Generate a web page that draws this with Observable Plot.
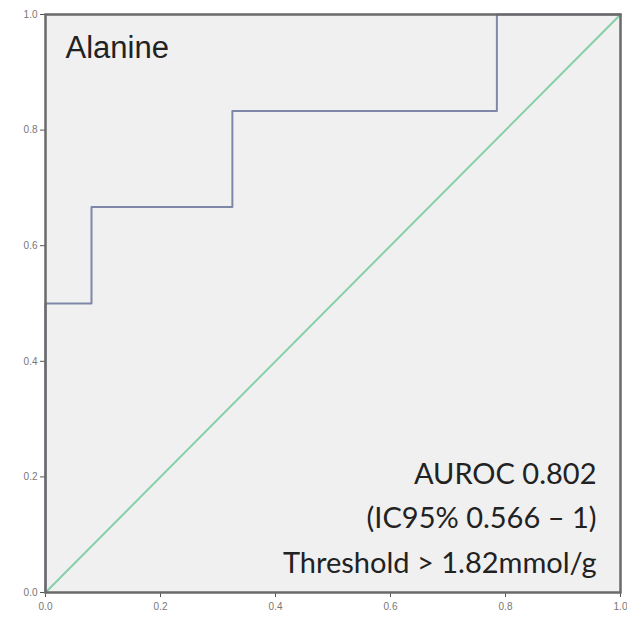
<!DOCTYPE html>
<html>
<head>
<meta charset="utf-8">
<script src="https://cdn.jsdelivr.net/npm/d3@7"></script>
<script src="https://cdn.jsdelivr.net/npm/@observablehq/plot@0.6"></script>
<style>
  html, body { margin: 0; padding: 0; background: #fff; }
  svg { display: block; }
</style>
</head>
<body>
<div id="chart"></div>
<script>
const fpr = [0, 0, 0.08, 0.08, 0.325, 0.325, 0.785, 0.785, 1];
const tpr = [0, 0.5, 0.5, 0.667, 0.667, 0.833, 0.833, 1, 1];
const refX = [0, 1];
const refY = [0, 1];
const ticks = [0, 0.2, 0.4, 0.6, 0.8, 1];
const title = "Alanine";
const noteLines = ["AUROC 0.802", "(IC95% 0.566 \u2013 1)", "Threshold > 1.82mmol/g"];

const roc = fpr.map((x, i) => ({x, y: tpr[i]}));
const ref = refX.map((x, i) => ({x, y: refY[i]}));

const chart = Plot.plot({
  width: 627,
  height: 622,
  marginLeft: 45,
  marginRight: 7,
  marginTop: 14,
  marginBottom: 30,
  style: {background: "#fff", fontFamily: "Liberation Sans, Arial, sans-serif"},
  x: {domain: [0, 1], label: null},
  y: {domain: [0, 1], label: null},
  marks: [
    Plot.frame({fill: "#f0f0f0", stroke: null}),
    Plot.axisX({ticks, tickFormat: d3.format(".1f"), stroke: "#555", color: "#777", fontSize: 10, tickPadding: 5, tickSize: 5}),
    Plot.axisY({ticks, tickFormat: d3.format(".1f"), stroke: "#555", color: "#777", fontSize: 10, tickPadding: 3, tickSize: 5}),
    Plot.line(ref, {x: "x", y: "y", stroke: "#86cfa8", strokeWidth: 2}),
    Plot.line(roc, {x: "x", y: "y", stroke: "#7e87a8", strokeWidth: 2}),
    Plot.frame({stroke: "#6a6a6a", strokeWidth: 2.5}),
    Plot.text([title], {frameAnchor: "top-left", dx: 20, dy: 21, fontSize: 31, fill: "#222", textAnchor: "start", fontFamily: "Liberation Sans, Arial, sans-serif"}),
    Plot.text([noteLines.join("\n")], {frameAnchor: "bottom-right", dx: -24, dy: -20, fontSize: 29, lineHeight: 1.52, fill: "#222", textAnchor: "end", fontFamily: "Lato, sans-serif"})
  ]
});
document.getElementById("chart").appendChild(chart);
</script>
</body>
</html>
